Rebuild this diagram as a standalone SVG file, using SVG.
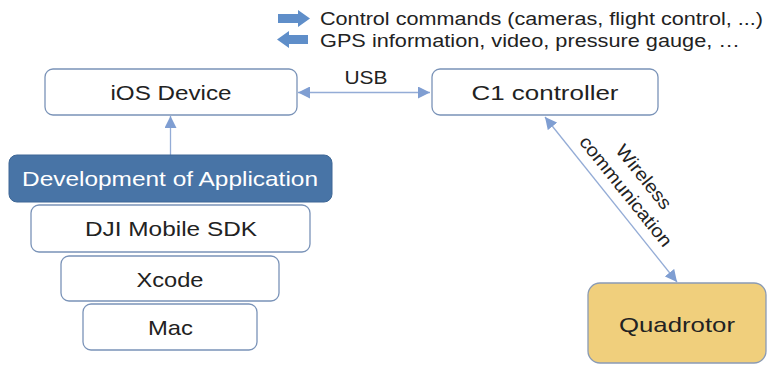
<svg xmlns="http://www.w3.org/2000/svg" width="769" height="368" viewBox="0 0 769 368">
<style>
.box{fill:#ffffff;stroke:#7a93b8;stroke-width:1.3}
.t{font-family:"Liberation Sans",Arial,sans-serif;fill:#222222;text-anchor:middle;font-size:21px}
.lg{font-family:"Liberation Sans",Arial,sans-serif;fill:#222222;font-size:17.5px}
.c{stroke:#94acd6;stroke-width:1.3;fill:none}
</style>
<defs>
<marker id="ah" viewBox="0 0 10 10" refX="10" refY="5" markerWidth="12" markerHeight="12" markerUnits="userSpaceOnUse" orient="auto-start-reverse">
<path d="M0,0 L10,5 L0,10 z" fill="#7f9ed2"/>
</marker>
</defs>
<rect width="769" height="368" fill="#ffffff"/>
<g id="legend">
<path d="M278,14 H298 V10 L310,18.5 L298,27 V23 H278 z" fill="#5f8ec9"/>
<path d="M308,35 H289 V31 L277,39.5 L289,48 V44 H308 z" fill="#5f8ec9"/>
<text class="lg" x="320" y="25" textLength="443" lengthAdjust="spacingAndGlyphs">Control commands (cameras, flight control, ...)</text>
<text class="lg" x="320" y="47" textLength="420" lengthAdjust="spacingAndGlyphs">GPS information, video, pressure gauge, …</text>
</g>
<g id="connectors">
<line class="c" x1="298" y1="92.5" x2="430" y2="92.5" marker-start="url(#ah)" marker-end="url(#ah)"/>
<line class="c" x1="170.5" y1="155" x2="170.5" y2="116" marker-end="url(#ah)"/>
<line class="c" x1="545" y1="117" x2="677" y2="282" marker-start="url(#ah)" marker-end="url(#ah)"/>
<text class="t" x="366" y="84" style="font-size:18px" textLength="43" lengthAdjust="spacingAndGlyphs">USB</text>
<g transform="translate(635,184) rotate(51.3)">
<text class="t" x="0" y="-5" style="font-size:18.5px" textLength="77" lengthAdjust="spacingAndGlyphs">Wireless</text>
<text class="t" x="0" y="18" style="font-size:18.5px" textLength="136" lengthAdjust="spacingAndGlyphs">communication</text>
</g>
</g>
<g id="ios">
<rect class="box" x="45" y="69" width="252" height="46" rx="8"/>
<text class="t" x="171" y="100" textLength="121" lengthAdjust="spacingAndGlyphs">iOS Device</text>
</g>
<g id="c1">
<rect class="box" x="432" y="69" width="226" height="46" rx="8"/>
<text class="t" x="545" y="100" textLength="147" lengthAdjust="spacingAndGlyphs">C1 controller</text>
</g>
<g id="devapp">
<rect x="9" y="155" width="323" height="47" rx="8" fill="#4874a6" stroke="#3e6796" stroke-width="1"/>
<text class="t" x="170" y="186" style="fill:#ffffff" textLength="296" lengthAdjust="spacingAndGlyphs">Development of Application</text>
</g>
<g id="sdk">
<rect class="box" x="31" y="205" width="279" height="47" rx="8"/>
<text class="t" x="171" y="236" textLength="172" lengthAdjust="spacingAndGlyphs">DJI Mobile SDK</text>
</g>
<g id="xcode">
<rect class="box" x="61" y="256" width="218" height="45" rx="8"/>
<text class="t" x="170" y="287" textLength="67" lengthAdjust="spacingAndGlyphs">Xcode</text>
</g>
<g id="mac">
<rect class="box" x="83" y="304" width="174" height="46" rx="8"/>
<text class="t" x="170.5" y="335" textLength="45" lengthAdjust="spacingAndGlyphs">Mac</text>
</g>
<g id="quadrotor">
<rect x="588" y="283" width="178" height="80" rx="12" fill="#f0cf7c" stroke="#8a9bb5" stroke-width="1.3"/>
<text class="t" x="677" y="332" textLength="116" lengthAdjust="spacingAndGlyphs">Quadrotor</text>
</g>
</svg>
